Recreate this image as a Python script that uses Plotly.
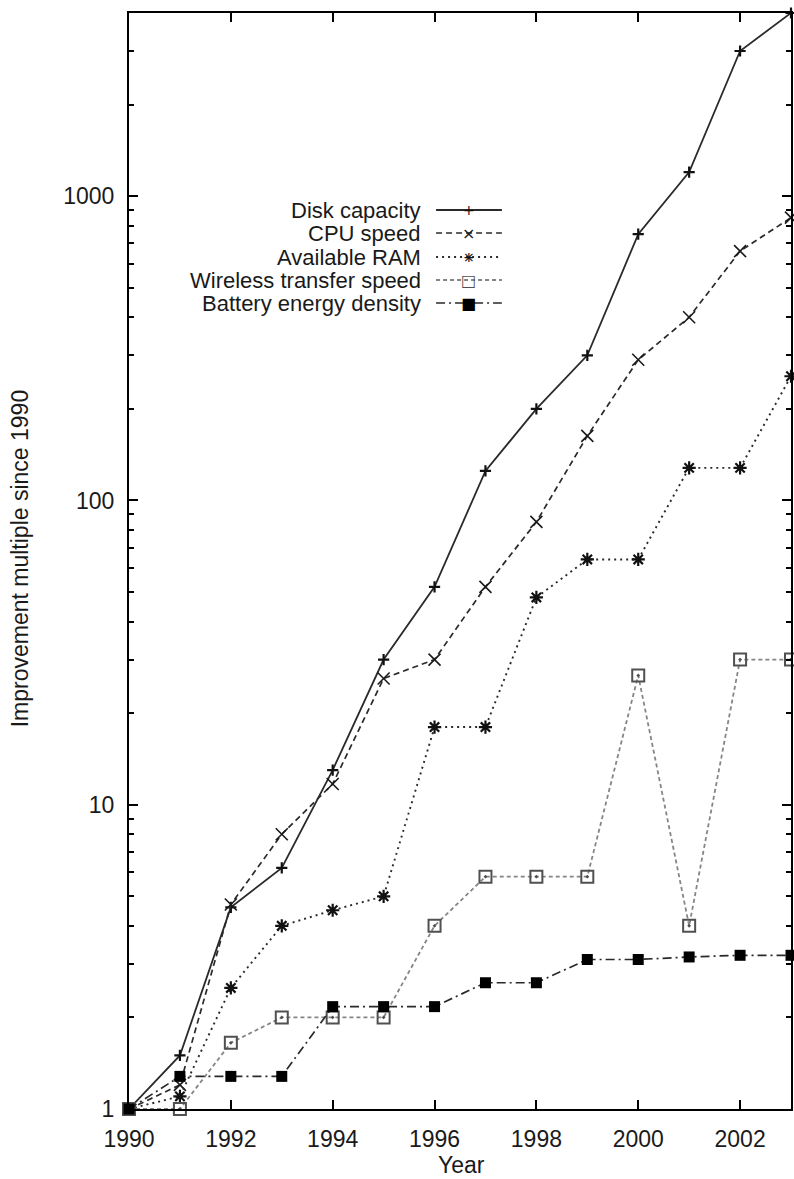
import math
import plotly.graph_objects as go

# ---------------- data ----------------
years = list(range(1990, 2004))
series_names = ["Disk capacity", "CPU speed", "Available RAM",
                "Wireless transfer speed", "Battery energy density"]
disk = [1, 1.5, 4.6, 6.2, 13, 30, 52, 125, 200, 300, 750, 1200, 3000, 4000]
cpu = [1, 1.2, 4.7, 8, 11.7, 26, 30, 52, 85, 163, 290, 400, 660, 850]
ram = [1, 1.1, 2.5, 4, 4.5, 5, 18, 18, 48, 64, 64, 128, 128, 256]
wireless = [1, 1, 1.65, 2, 2, 2, 4, 5.8, 5.8, 5.8, 26.6, 4, 30, 30]
battery = [1, 1.28, 1.28, 1.28, 2.17, 2.17, 2.17, 2.6, 2.6, 3.1, 3.1, 3.16, 3.2, 3.2]
x_tick_vals = [1990, 1992, 1994, 1996, 1998, 2000, 2002]
x_tick_text = ["1990", "1992", "1994", "1996", "1998", "2000", "2002"]
y_tick_vals = [1, 10, 100, 1000]
y_tick_text = ["1", "10", "100", "1000"]
x_title = "Year"
y_title = "Improvement multiple since 1990"

# ---------------- layout geometry (pixels) ----------------
W, H = 794, 1179
L, R, T, B = 129, 1, 13, 70
PW, PH = W - L - R, H - T - B
FONT = "Liberation Sans, Arial, DejaVu Sans, sans-serif"
FS = 23
LEG_FS = 22
TXT = "#1a1a1a"


def px(xp):
    return (xp - L) / PW


def py(yp):
    return (H - B - yp) / PH


styles = [
    dict(data=disk, dash="solid", lc="#2a2a2a", lw=1.8, sym="cross-thin", ms=8, mc="#111111", mlw=2.2, glyph=["+"], gs=14),
    dict(data=cpu, dash="6px,4px", lc="#2a2a2a", lw=1.7, sym="x-thin", ms=12, mc="#1a1a1a", mlw=1.6, glyph=["×"], gs=16),
    dict(data=ram, dash="2px,4px", lc="#2a2a2a", lw=1.9, sym="asterisk", ms=11, mc="#111111", mlw=2.2, glyph=["+", "×"], gs=14),
    dict(data=wireless, dash="4px,3px", lc="#858585", lw=1.8, sym="square-open-dot", ms=12, mc="#505050", mlw=2.0, glyph=["□"], gs=16),
    dict(data=battery, dash="9px,4px,2px,4px", lc="#2a2a2a", lw=1.7, sym="square", ms=11, mc="#000000", mlw=0, glyph=["■"], gs=16),
]

fig = go.Figure()
for name, st in zip(series_names, styles):
    fig.add_trace(go.Scatter(
        x=years, y=st["data"], name=name, mode="lines+markers",
        line=dict(color=st["lc"], width=st["lw"], dash=st["dash"]),
        marker=dict(symbol=st["sym"], size=st["ms"], color=st["mc"],
                    line=dict(color=st["mc"], width=st["mlw"])),
        cliponaxis=False, showlegend=False, hoverinfo="skip",
    ))

ymax = max(max(disk), max(cpu))
ylog_max = math.log10(ymax)
minor_vals = [k * 10 ** d for d in range(0, 4) for k in range(2, 10) if k * 10 ** d <= ymax]

fig.update_xaxes(
    range=[years[0], years[-1]], tickmode="array", tickvals=x_tick_vals, ticktext=x_tick_text,
    ticks="inside", ticklen=9, tickwidth=2, tickcolor="black",
    showline=True, linecolor="black", linewidth=2, mirror="allticks",
    showgrid=False, zeroline=False,
    tickfont=dict(family=FONT, size=FS, color=TXT), ticklabelstandoff=8,
)
fig.update_yaxes(
    type="log", range=[0, ylog_max], tickmode="array", tickvals=y_tick_vals, ticktext=y_tick_text,
    ticks="inside", ticklen=9, tickwidth=2, tickcolor="black",
    minor=dict(ticks="inside", ticklen=5, tickwidth=2, tickcolor="black",
               tickmode="array", tickvals=minor_vals, showgrid=False),
    showline=True, linecolor="black", linewidth=2, mirror="allticks",
    showgrid=False, zeroline=False,
    tickfont=dict(family=FONT, size=FS, color=TXT), ticklabelstandoff=8,
)

annotations = [
    dict(text=y_title, x=px(20), y=py(558), xref="paper", yref="paper", textangle=-90,
         showarrow=False, xanchor="center", yanchor="middle",
         font=dict(family=FONT, size=FS, color=TXT)),
    dict(text=x_title, x=px(463), y=py(1165), xref="paper", yref="paper",
         showarrow=False, xanchor="center", yanchor="middle",
         font=dict(family=FONT, size=FS, color=TXT)),
]
shapes = []

# custom gnuplot-style key: text right-aligned, sample on the right
row_y = [210, 233, 257, 280, 303]
for name, st, ry in zip(series_names, styles, row_y):
    annotations.append(dict(text=name, x=px(423), y=py(ry), xref="paper", yref="paper",
                            showarrow=False, xanchor="right", yanchor="middle",
                            borderpad=0,
                            font=dict(family=FONT, size=LEG_FS, color=TXT)))
    shapes.append(dict(type="line", xref="paper", yref="paper",
                       x0=px(437), x1=px(503), y0=py(ry), y1=py(ry),
                       line=dict(color=st["lc"], width=st["lw"], dash=st["dash"])))
    for g in st["glyph"]:
        annotations.append(dict(text=g, x=px(470), y=py(ry), xref="paper", yref="paper",
                                showarrow=False, xanchor="center", yanchor="middle",
                                borderpad=0,
                                font=dict(family="DejaVu Sans", size=st["gs"], color=st["mc"])))

fig.update_layout(
    width=W, height=H, margin=dict(l=L, r=R, t=T, b=B, pad=0),
    paper_bgcolor="white", plot_bgcolor="white",
    annotations=annotations, shapes=shapes, showlegend=False,
    font=dict(family=FONT, size=FS, color=TXT),
    hovermode=False,
)

fig.write_html(
    "out.html",
    config={"displayModeBar": False, "staticPlot": True},
    post_script="document.body.style.margin='0';document.body.style.overflow='hidden';",
)
